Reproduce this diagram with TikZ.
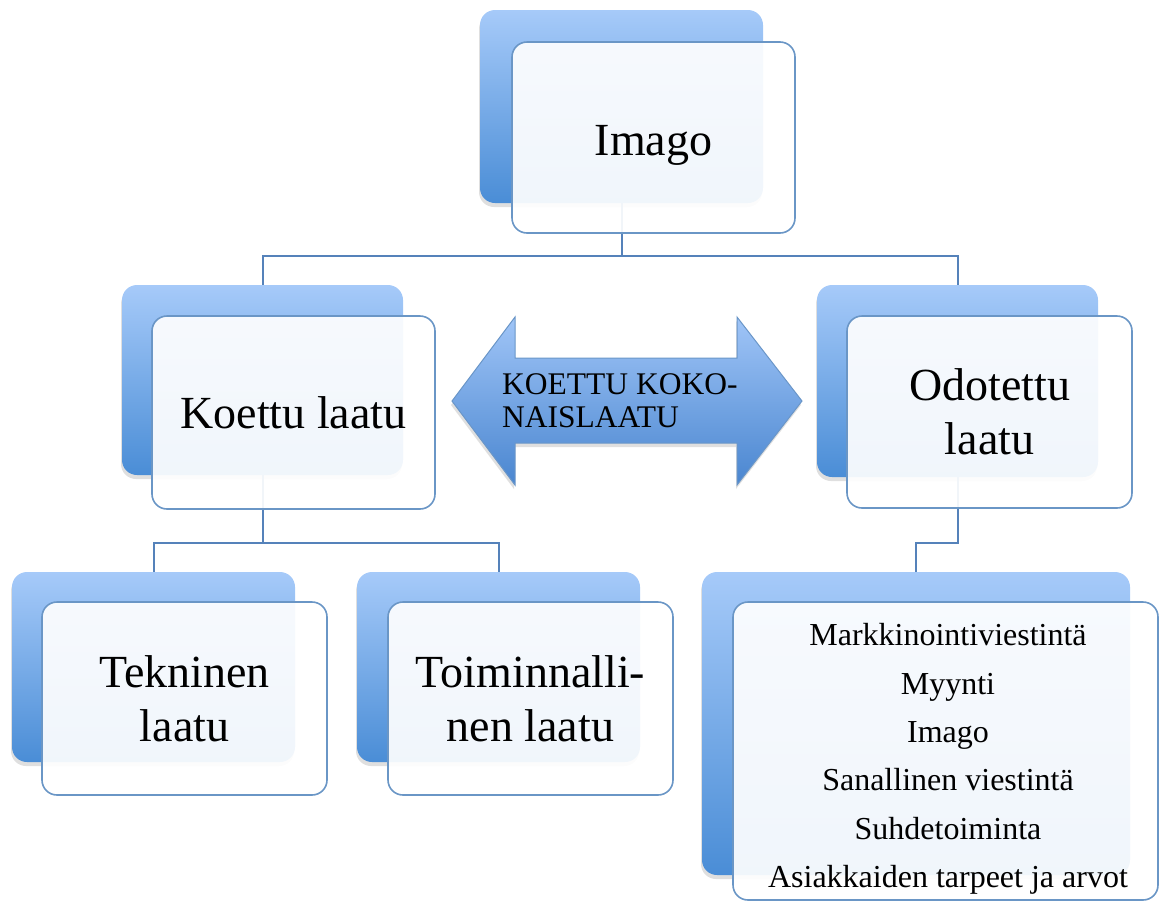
\documentclass[tikz,border=0pt]{standalone}
\usepackage{fontspec}
\setmainfont{Liberation Serif}
\usetikzlibrary{shadows}
\definecolor{bTop}{HTML}{A6CAF9}
\definecolor{bBot}{HTML}{4A8DD6}
\definecolor{fBord}{HTML}{6A96C6}
\definecolor{lineC}{HTML}{5582BA}
\definecolor{aTop}{HTML}{A0C5F7}
\definecolor{aBot}{HTML}{4A86D0}
\definecolor{aBord}{HTML}{6A96C8}
\begin{document}
\begin{tikzpicture}[x=1pt,y=-1pt,
  backbox/.style={rectangle, rounded corners=15pt, inner sep=0pt, top color=bTop, bottom color=bBot, draw=none,
    drop shadow={shadow xshift=-1pt, shadow yshift=-4pt, opacity=0.25}},
  frontbox/.style={rectangle, rounded corners=15pt, inner sep=0pt, draw=fBord, line width=1.6pt,
    fill=white, fill opacity=0.92, text opacity=1, align=center, font=\fontsize{46}{54}\selectfont},
  conn/.style={draw=lineC, line width=2pt},
  arrowshape/.style={top color=aTop, bottom color=aBot, draw=aBord, line width=1pt,
    drop shadow={shadow xshift=-1pt, shadow yshift=-4pt, opacity=0.25}},
  listtext/.style={align=center, inner sep=0pt, font=\fontsize{32}{48.4}\selectfont},
  arrowtext/.style={align=left, inner sep=0pt, anchor=west, font=\fontsize{31.5}{33}\selectfont}
]
\useasboundingbox (0,0) rectangle (1161,903);

% back boxes
\node[backbox, minimum width=283pt, minimum height=193pt] (imB) at (621.5,106.5) {};
\node[backbox, minimum width=281pt, minimum height=190pt] (koB) at (262.5,380) {};
\node[backbox, minimum width=281pt, minimum height=192pt] (odB) at (957.5,381) {};
\node[backbox, minimum width=283pt, minimum height=190pt] (teB) at (153.5,667) {};
\node[backbox, minimum width=283pt, minimum height=190pt] (toB) at (498.5,667) {};
\node[backbox, minimum width=428pt, minimum height=303pt] (liB) at (916,723.5) {};

% connectors (behind front boxes)
\draw[conn] (imB.south) -- ++(0,53) -| (koB.north);
\draw[conn] (imB.south) -- ++(0,53) -| (odB.north);
\draw[conn] (koB.south) -- ++(0,68) -| (teB.north);
\draw[conn] (koB.south) -- ++(0,68) -| (toB.north);
\draw[conn] (odB.south) -- ++(0,66) -| (liB.north);

% double arrow
\draw[arrowshape] (452,401) -- (515,317) -- (515,358) -- (737,358) -- (737,317) -- (802,401)
  -- (737,485) -- (737,443) -- (515,443) -- (515,485) -- cycle;
\node[arrowtext] (arr) at (502,400.5) {KOETTU KOKO-\\NAISLAATU};

% front boxes
\node[frontbox, minimum width=283pt, minimum height=191pt] (imF) at (653.5,137.5) {\raisebox{-8pt}[\height][\depth]{Imago}};
\node[frontbox, minimum width=283pt, minimum height=193pt] (koF) at (293.5,412.5) {Koettu laatu};
\node[frontbox, minimum width=285pt, minimum height=192pt] (odF) at (989.5,412) {Odotettu\\laatu};
\node[frontbox, minimum width=285pt, minimum height=193pt] (teF) at (184.5,698.5) {Tekninen\\laatu};
\node[frontbox, minimum width=285pt, minimum height=193pt] (toF) at (530.5,698.5) {Toiminnalli-\\nen laatu};
\node[frontbox, minimum width=425pt, minimum height=298pt] (liF) at (945.5,751) {};
\node[listtext] (liT) at (948,759) {Markkinointiviestintä\\Myynti\\Imago\\Sanallinen viestintä\\Suhdetoiminta\\Asiakkaiden tarpeet ja arvot};
\end{tikzpicture}
\end{document}
